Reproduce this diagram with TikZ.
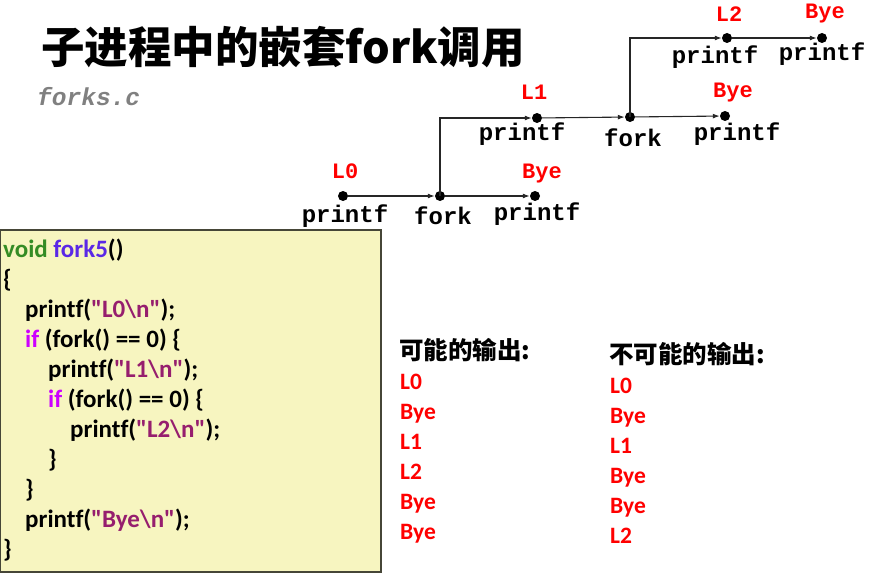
\documentclass[tikz,border=0pt]{standalone}
\usepackage{fontspec}
\setmainfont{Carlito}
\newfontfamily\codefont{Carlito}[Ligatures=NoCommon]
\newfontfamily\cjk{Noto Sans CJK SC}
\newfontfamily\cour{Liberation Mono}
\usetikzlibrary{arrows.meta}
\newcommand\dq{\symbol{34}}
\definecolor{boxfill}{RGB}{247,245,192}
\definecolor{boxline}{RGB}{70,70,55}
\definecolor{kwgreen}{RGB}{52,140,36}
\definecolor{fnblue}{RGB}{90,40,230}
\definecolor{kwif}{RGB}{204,0,255}
\definecolor{strc}{RGB}{150,30,110}
\definecolor{labred}{RGB}{255,0,0}
\definecolor{gray5}{RGB}{128,128,128}
\tikzset{
  dot/.style={circle,fill=black,inner sep=0pt,minimum size=10pt},
  arr/.style={-{Latex[length=7pt,width=5pt]},line width=1.1pt,draw=black!85},
  fn/.style={font=\cour\bfseries\fontsize{24}{24}\selectfont,inner sep=0pt},
  lab/.style={font=\cour\bfseries\fontsize{22}{22}\selectfont,text=labred,inner sep=0pt},
  code/.style={anchor=base west,inner sep=0pt,font=\codefont\bfseries\fontsize{25}{25}\selectfont},
  outl/.style={anchor=base west,inner sep=0pt,font=\bfseries\fontsize{23.5}{23.5}\selectfont,text=labred},
  head/.style={anchor=base west,inner sep=0pt,font=\cjk\bfseries\fontsize{24.5}{24.5}\selectfont},
}
\begin{document}
\begin{tikzpicture}[x=1pt,y=-1pt]
\useasboundingbox (0,0) rectangle (890,583);
% title
\node[anchor=base west,inner sep=0pt,font=\cjk\bfseries\fontsize{43.5}{43.5}\selectfont] (title) at (41,64) {子进程中的嵌套fork调用};
\node[anchor=base west,inner sep=0pt,font=\cour\bfseries\itshape\fontsize{24.5}{24.5}\selectfont,text=gray5] (file) at (37,106) {forks.c};
% process graph
\node[dot] (p0) at (343,196) {};
\node[dot] (f1) at (440,196) {};
\node[dot] (b1) at (535,196) {};
\node[dot] (l1) at (537,118) {};
\node[dot] (f2) at (630,117) {};
\node[dot] (b2) at (725,116) {};
\node[dot] (l2) at (727,38) {};
\node[dot] (b3) at (822,38) {};
\draw[arr] (p0) -- (f1);
\draw[arr] (f1) -- (b1);
\draw[arr] (f1.center) |- (l1);
\draw[arr] (l1) -- (f2);
\draw[arr] (f2) -- (b2);
\draw[arr] (f2.center) |- (l2);
\draw[arr] (l2) -- (b3);
% labels
\node[lab] (tl0) at (345,171) {L0};
\node[fn] (tp0) at (345,216) {printf};
\node[fn] (tf1) at (443,216) {fork};
\node[lab] (tb1) at (542,174) {Bye};
\node[fn] (tp1) at (537,214) {printf};
\node[lab] (tl1) at (534,92) {L1};
\node[fn] (tp2) at (522,134) {printf};
\node[fn] (tf2) at (633,138) {fork};
\node[lab] (tb2) at (733,93) {Bye};
\node[fn] (tp3) at (737,134) {printf};
\node[lab] (tl2) at (729,14) {L2};
\node[fn] (tp4) at (715,57) {printf};
\node[lab] (tb3) at (825,14) {Bye};
\node[fn] (tp5) at (822,54) {printf};
% code box
\draw[fill=boxfill,draw=boxline,line width=1.3pt] (0,230) rectangle (381,572);
\node[code] (c1) at (3,257) {\textcolor{kwgreen}{void} \textcolor{fnblue}{fork5}()};
\node[code] (c2) at (3,287) {\{};
\node[code] (c3) at (25,317) {printf(\textcolor{strc}{\dq L0\textbackslash n\dq});};
\node[code] (c4) at (25,347) {\textcolor{kwif}{if} (fork() == 0) \{};
\node[code] (c5) at (48,377) {printf(\textcolor{strc}{\dq L1\textbackslash n\dq});};
\node[code] (c6) at (48,407) {\textcolor{kwif}{if} (fork() == 0) \{};
\node[code] (c7) at (70,437) {printf(\textcolor{strc}{\dq L2\textbackslash n\dq});};
\node[code] (c8) at (48,467) {\}};
\node[code] (c9) at (25,497) {\}};
\node[code] (c10) at (25,527) {printf(\textcolor{strc}{\dq Bye\textbackslash n\dq});};
\node[code] (c11) at (3,557) {\}};
% outputs
\node[head] (h1) at (399,359) {可能的输出:};
\node[outl] (a1) at (400,389) {L0};
\node[outl] (a2) at (400,419) {Bye};
\node[outl] (a3) at (400,449) {L1};
\node[outl] (a4) at (400,479) {L2};
\node[outl] (a5) at (400,509) {Bye};
\node[outl] (a6) at (400,539) {Bye};
\node[head] (h2) at (609,363) {不可能的输出:};
\node[outl] (n1) at (610,393) {L0};
\node[outl] (n2) at (610,423) {Bye};
\node[outl] (n3) at (610,453) {L1};
\node[outl] (n4) at (610,483) {Bye};
\node[outl] (n5) at (610,513) {Bye};
\node[outl] (n6) at (610,543) {L2};
\end{tikzpicture}
\end{document}
